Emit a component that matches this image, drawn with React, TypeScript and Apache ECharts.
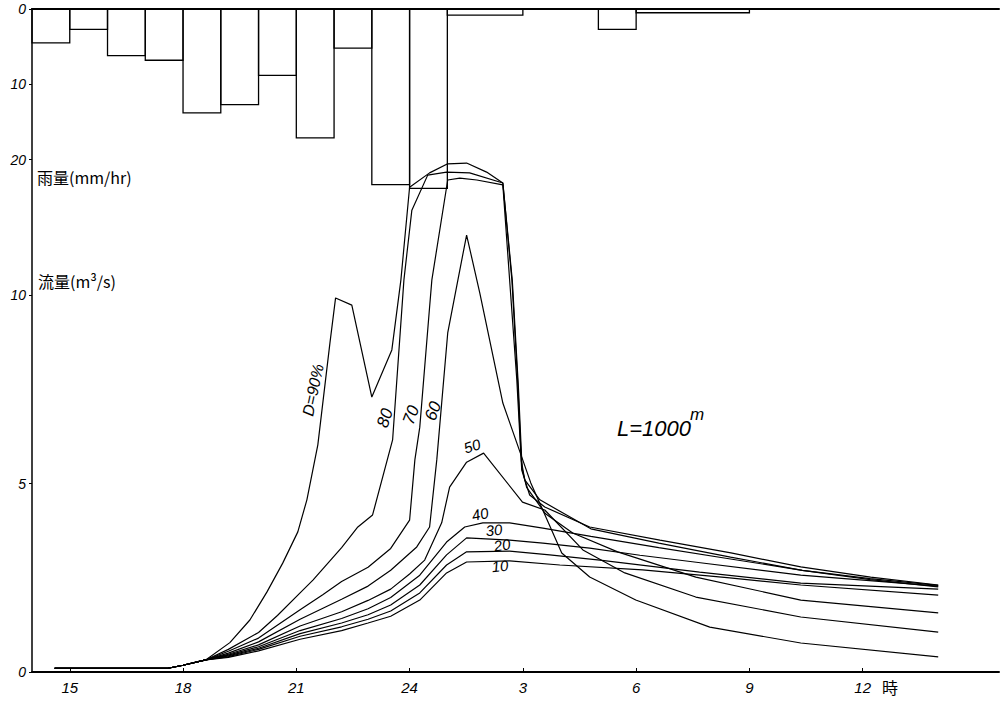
import React, { useEffect, useRef } from "react";
import * as echarts from "echarts";

// ---- axis ticks (hours continue past 24: 27 = 3 h, 30 = 6 h ...)
const hourTicks = [15, 18, 21, 24, 27, 30, 33, 36];
const flowTicks = [0, 5, 10];
const rainTicks = [0, 10, 20];

// ---- hourly rainfall (mm/hr)
const rainStart = [14, 15, 16, 17, 18, 19, 20, 21, 22, 23, 24, 25, 29, 30];
const rainEnd = [15, 16, 17, 18, 19, 20, 21, 22, 23, 24, 25, 27, 30, 33];
const rainValues = [4.5, 2.7, 6.2, 6.8, 13.8, 12.7, 8.8, 17.1, 5.2, 23.3, 23.8, 0.8, 2.7, 0.5];

// ---- discharge (m3/s) for each D
const baseFlow = [[14.6, 0.1], [17.6, 0.1], [18.0, 0.18], [18.6, 0.32]];

const flowD90 = [...baseFlow, [19.24, 0.78], [19.77, 1.38], [20.22, 2.12], [20.64, 2.89], [21.04, 3.72], [21.28, 4.57], [21.57, 6.03], [21.89, 8.73], [22.04, 9.93], [22.47, 9.74], [23.0, 7.3], [23.53, 8.55], [23.77, 10.41], [24.0, 12.87], [24.53, 13.25], [25.01, 13.49], [25.51, 13.51], [26.04, 13.27], [26.47, 12.98], [26.72, 10.4], [26.88, 7.6], [26.98, 5.4], [27.1, 4.9], [27.6, 4.2], [28.32, 3.69], [29.51, 3.19], [31.58, 2.52], [34.36, 1.91], [38.0, 1.57]];

const flowD80 = [...baseFlow, [19.2, 0.6], [20.0, 1.05], [20.5, 1.5], [21.1, 2.1], [21.44, 2.44], [22.2, 3.3], [22.63, 3.85], [23.02, 4.17], [23.55, 6.16], [23.85, 10.41], [24.06, 12.26], [24.48, 13.19], [24.98, 13.27], [25.59, 13.25], [26.47, 12.98], [26.71, 10.4], [26.86, 7.75], [26.96, 5.6], [27.05, 5.1], [27.45, 4.57], [28.8, 3.8], [30.6, 3.42], [32.5, 3.05], [34.4, 2.7], [36.2, 2.45], [38.0, 2.26]];

const flowD70 = [...baseFlow, [19.2, 0.55], [20.0, 0.9], [21.1, 1.65], [21.7, 2.05], [22.2, 2.4], [22.9, 2.78], [23.5, 3.28], [24.0, 4.03], [24.14, 5.63], [24.27, 6.5], [24.53, 9.69], [24.59, 10.41], [25.01, 13.06], [25.33, 13.11], [25.78, 13.06], [26.47, 12.93], [26.65, 10.4], [26.84, 7.75], [26.97, 5.36], [27.18, 4.7], [27.58, 4.38], [28.77, 3.85], [30.63, 3.5], [32.51, 3.16], [34.36, 2.79], [36.21, 2.52], [38.0, 2.31]];

const flowD60 = [...baseFlow, [19.2, 0.5], [20.0, 0.8], [21.1, 1.4], [22.2, 1.93], [22.9, 2.28], [23.5, 2.7], [24.19, 3.32], [24.53, 3.85], [24.72, 5.63], [25.01, 9.0], [25.28, 10.41], [25.51, 11.6], [25.86, 10.06], [26.47, 7.14], [27.21, 5.02], [28.03, 3.16], [28.77, 2.52], [29.99, 1.91], [31.95, 1.19], [34.36, 0.77], [38.0, 0.4]];

const flowD50 = [...baseFlow, [19.2, 0.47], [20.0, 0.72], [21.1, 1.22], [22.2, 1.6], [22.9, 1.9], [23.5, 2.2], [24.0, 2.6], [24.4, 2.97], [24.85, 3.96], [25.06, 4.91], [25.51, 5.57], [25.96, 5.81], [26.99, 4.51], [27.58, 4.3], [28.59, 3.24], [29.7, 2.63], [31.58, 1.99], [34.36, 1.46], [38.0, 1.06]];

const flowD40 = [...baseFlow, [19.2, 0.45], [20.0, 0.67], [21.1, 1.1], [22.2, 1.42], [22.9, 1.68], [23.5, 1.98], [24.27, 2.57], [24.98, 3.45], [25.46, 3.85], [25.94, 3.96], [26.65, 3.96], [27.53, 3.82], [28.8, 3.6], [30.6, 3.3], [32.5, 3.0], [34.4, 2.7], [36.2, 2.48], [38.0, 2.3]];

const flowD30 = [...baseFlow, [19.2, 0.43], [20.0, 0.63], [21.1, 1.02], [22.2, 1.3], [22.9, 1.52], [23.5, 1.78], [24.27, 2.31], [24.98, 3.11], [25.51, 3.56], [26.65, 3.5], [27.53, 3.42], [28.77, 3.29], [30.1, 3.1], [31.7, 2.9], [34.36, 2.57], [38.0, 2.28]];

const flowD20 = [...baseFlow, [19.2, 0.41], [20.0, 0.6], [21.1, 0.95], [22.2, 1.2], [22.9, 1.4], [23.5, 1.62], [24.27, 2.1], [24.98, 2.84], [25.51, 3.19], [26.65, 3.21], [27.71, 3.11], [29.04, 2.97], [31.68, 2.65], [34.36, 2.36], [38.0, 2.2]];

const flowD10 = [...baseFlow, [19.2, 0.39], [20.0, 0.56], [21.1, 0.87], [22.2, 1.1], [22.9, 1.3], [23.5, 1.48], [24.27, 1.91], [24.98, 2.63], [25.51, 2.92], [26.65, 2.95], [27.98, 2.84], [30.17, 2.71], [32.48, 2.5], [34.36, 2.31], [38.0, 2.04]];

const curveNames = ["D90", "D80", "D70", "D60", "D50", "D40", "D30", "D20", "D10"];
const curveData = [flowD90, flowD80, flowD70, flowD60, flowD50, flowD40, flowD30, flowD20, flowD10];

const HAND = "'Liberation Sans', 'DejaVu Sans', sans-serif";
const CJK = "'Noto Sans CJK JP', 'Noto Sans CJK SC', sans-serif";

export default function App() {
  const ref = useRef<HTMLDivElement>(null);

  useEffect(() => {
    if (!ref.current) return;
    const chart = echarts.init(ref.current, undefined, { renderer: "svg" });

    const rainData = rainStart.map((s, i) => [s, rainEnd[i], rainValues[i]]);

    const labelStyle = {
      color: "#000",
      fontStyle: "italic" as const,
      fontFamily: HAND,
      fontSize: 14,
    };

    const rotText = (text: string, x: number, y: number, deg: number, size: number) => ({
      type: "text",
      x,
      y,
      rotation: (deg * Math.PI) / 180,
      silent: true,
      style: {
        text,
        fill: "#000",
        fontSize: size,
        fontStyle: "italic",
        fontFamily: HAND,
        align: "center",
        verticalAlign: "middle",
      },
    });

    const option: any = {
      animation: false,
      backgroundColor: "#fff",
      grid: { left: 32, right: 2, top: 9, bottom: 29, containLabel: false },
      xAxis: [
        {
          type: "value",
          min: 14,
          max: 39.61,
          position: "bottom",
          splitLine: { show: false },
          axisLine: { show: true, onZero: false, lineStyle: { color: "#000", width: 2 } },
          axisTick: { show: true, inside: true, length: 4, customValues: hourTicks, lineStyle: { color: "#000" } },
          axisLabel: {
            ...labelStyle,
            fontSize: 15,
            margin: 8,
            customValues: hourTicks,
            formatter: (v: number) => String(v > 24 ? v - 24 : v),
          },
        },
        {
          type: "value",
          min: 14,
          max: 39.61,
          position: "top",
          splitLine: { show: false },
          axisLine: { show: true, onZero: false, lineStyle: { color: "#000", width: 2 } },
          axisTick: { show: false },
          axisLabel: { show: false },
        },
      ],
      yAxis: [
        {
          type: "value",
          min: 0,
          max: 17.6,
          position: "left",
          splitLine: { show: false },
          axisLine: { show: true, onZero: false, lineStyle: { color: "#000", width: 1.5 } },
          axisTick: { show: true, length: 3, customValues: flowTicks, lineStyle: { color: "#000" } },
          axisLabel: { ...labelStyle, margin: 6, customValues: flowTicks },
        },
        {
          type: "value",
          min: 0,
          max: 88,
          inverse: true,
          position: "left",
          offset: 0,
          splitLine: { show: false },
          axisLine: { show: false },
          axisTick: { show: true, length: 3, customValues: rainTicks, lineStyle: { color: "#000" } },
          axisLabel: { ...labelStyle, margin: 6, customValues: rainTicks },
        },
      ],
      series: [
        {
          type: "custom",
          name: "rain",
          xAxisIndex: 0,
          yAxisIndex: 1,
          silent: true,
          encode: { x: [0, 1], y: 2 },
          data: rainData,
          renderItem: (params: any, api: any) => {
            const s = api.value(0);
            const e = api.value(1);
            const v = api.value(2);
            const p0 = api.coord([s, 0]);
            const p1 = api.coord([e, v]);
            return {
              type: "rect",
              shape: { x: p0[0], y: p0[1], width: p1[0] - p0[0], height: p1[1] - p0[1] },
              style: { fill: "none", stroke: "#000", lineWidth: 1.3 },
            };
          },
        },
        ...curveNames.map((name, i) => ({
          type: "line",
          name,
          xAxisIndex: 0,
          yAxisIndex: 0,
          data: curveData[i],
          showSymbol: false,
          symbol: "none",
          silent: true,
          lineStyle: { color: "#000", width: 1.2 },
        })),
      ],
      graphic: [
        {
          type: "text",
          x: 37,
          y: 177,
          silent: true,
          style: { text: "雨量(mm/hr)", fill: "#000", fontSize: 16, fontFamily: CJK, verticalAlign: "middle" },
        },
        {
          type: "text",
          x: 38,
          y: 281,
          silent: true,
          style: { text: "流量(m³/s)", fill: "#000", fontSize: 16, fontFamily: CJK, verticalAlign: "middle" },
        },
        {
          type: "text",
          x: 882,
          y: 687,
          silent: true,
          style: { text: "時", fill: "#000", fontSize: 16, fontFamily: CJK, verticalAlign: "middle" },
        },
        {
          type: "text",
          x: 617,
          y: 428,
          silent: true,
          style: { text: "L=1000", fill: "#000", fontSize: 22, fontStyle: "italic", fontFamily: HAND, verticalAlign: "middle" },
        },
        {
          type: "text",
          x: 690,
          y: 414,
          silent: true,
          style: { text: "m", fill: "#000", fontSize: 17, fontStyle: "italic", fontFamily: HAND, verticalAlign: "middle" },
        },
        rotText("D=90%", 313, 390, 78, 16),
        rotText("80", 385, 418, 72, 17),
        rotText("70", 411, 415, 70, 17),
        rotText("60", 433, 411, 70, 17),
        rotText("50", 472, 446, 18, 15),
        rotText("40", 480, 514, 12, 15),
        rotText("30", 494, 530, 6, 15),
        rotText("20", 502, 545, 10, 15),
        rotText("10", 500, 566, 6, 15),
      ],
    };

    chart.setOption(option);
    return () => chart.dispose();
  }, []);

  return (
    <div
      ref={ref}
      style={{ position: "fixed", left: 0, top: 0, width: 1001, height: 701, background: "#fff" }}
    />
  );
}
